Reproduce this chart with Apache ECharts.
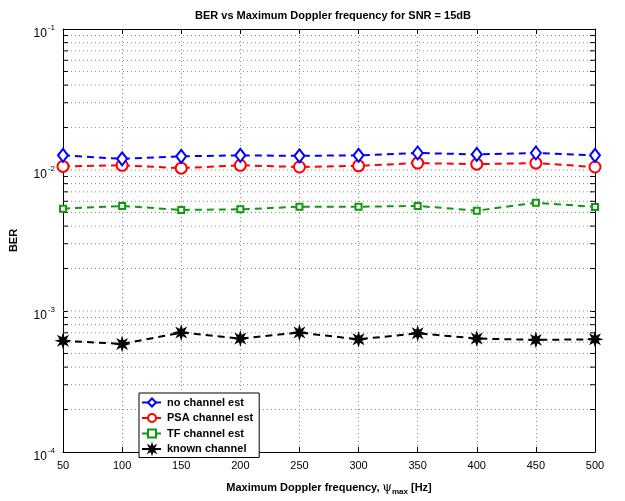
<!DOCTYPE html>
<html>
<head>
<meta charset="utf-8">
<script src="https://cdn.jsdelivr.net/npm/echarts@6/dist/echarts.min.js"></script>
<style>
  html, body { margin: 0; padding: 0; background: #fff; }
  #chart { width: 625px; height: 501px; }
</style>
</head>
<body>
<div id="chart"></div>
<script>
// 最大多普勒频率 (Hz)
const dopplerHz = [50, 100, 150, 200, 250, 300, 350, 400, 450, 500];
const berNoEst = [0.0127, 0.0120, 0.0125, 0.0127, 0.0126, 0.0127, 0.0132, 0.0129, 0.0132, 0.0127];
const berPsa = [0.0106, 0.0108, 0.0103, 0.0108, 0.0105, 0.0107, 0.0112, 0.0110, 0.0112, 0.0105];
const berTf = [0.00532, 0.00556, 0.00521, 0.00526, 0.00549, 0.00549, 0.00556, 0.00515, 0.00586, 0.00547];
const berKnown = [0.000615, 0.000584, 0.000703, 0.000638, 0.000703, 0.00063, 0.000695, 0.000638, 0.000624, 0.00063];
const decades = [1e-4, 1e-3, 1e-2, 1e-1];

const FONT = 'Liberation Sans, Arial, Helvetica, sans-serif';
const STAR = 'path://M10 0L4.2 1.7L7.07 7.07L1.7 4.2L0 10L-1.7 4.2L-7.07 7.07L-4.2 1.7L-10 0L-4.2 -1.7L-7.07 -7.07L-1.7 -4.2L0 -10L1.7 -4.2L7.07 -7.07L4.2 -1.7Z';

// 对数轴的次网格 2..9 x 10^k
const minorVals = [];
decades.slice(0, 3).forEach((d) => {
  for (let m = 2; m <= 9; m += 1) minorVals.push(+(d * m).toPrecision(3));
});
const gridVals = minorVals.concat([1e-3, 1e-2]);

const gridStyle = { color: '#8a8a8a', type: [1, 3], width: 1 };
const TICK = 4.2; // 约5px

function helperLine(points, lineStyle) {
  return {
    type: 'line',
    data: points,
    symbol: 'none',
    silent: true,
    animation: false,
    lineStyle,
    z: 1,
  };
}

const gridSeries = gridVals.map((v) => helperLine([[50, v], [500, v]], gridStyle))
  .concat(minorVals.map((v) => helperLine([[50, v], [50 + TICK, v]], { color: '#000', width: 1 })))
  .concat(minorVals.map((v) => helperLine([[500 - TICK, v], [500, v]], { color: '#000', width: 1 })));

function expLabel(value) {
  const e = Math.round(Math.log10(value));
  return `{b|10}{s|${e}}`;
}

function dataSeries(name, values, color, symbol, symbolSize, fill, z) {
  return {
    name,
    type: 'line',
    data: dopplerHz.map((x, i) => [x, values[i]]),
    symbol,
    symbolSize,
    color,
    lineStyle: { type: [7, 5], width: 2, color },
    itemStyle: { color: fill, borderColor: color, borderWidth: 2 },
    z,
  };
}

const chart = echarts.init(document.getElementById('chart'));
chart.setOption({
  animation: false,
  textStyle: { fontFamily: FONT },
  title: {
    text: 'BER vs Maximum Doppler frequency for SNR = 15dB',
    left: 328,
    top: 5,
    textAlign: 'center',
    textStyle: { fontSize: 11, fontWeight: 'bold', color: '#000', fontFamily: FONT },
  },
  grid: { left: 62, right: 30, top: 29, bottom: 45 },
  legend: {
    orient: 'vertical',
    left: 139,
    top: 393,
    padding: [4, 6, 3, 2],
    itemGap: 4.5,
    itemWidth: 20,
    itemHeight: 10,
    backgroundColor: '#fff',
    borderColor: '#000',
    borderWidth: 1,
    borderRadius: 0,
    textStyle: { fontSize: 11, fontWeight: 'bold', color: '#000', fontFamily: FONT },
    data: ['no channel est', 'PSA channel est', 'TF channel est', 'known channel'],
  },
  xAxis: [
    {
      type: 'value',
      min: 50,
      max: 500,
      interval: 50,
      name: '{n|Maximum Doppler frequency, }{p|ψ}{sub|max}{n| [Hz]}',
      nameLocation: 'middle',
      nameGap: 28,
      nameTextStyle: {
        rich: {
          n: { fontSize: 11, fontWeight: 'bold', color: '#000', fontFamily: FONT },
          p: { fontSize: 12, color: '#000', fontFamily: 'DejaVu Serif, serif' },
          sub: { fontSize: 8, fontWeight: 'bold', color: '#000', fontFamily: FONT, padding: [8, 0, 0, 0] },
        },
      },
      axisLine: { lineStyle: { color: '#000', width: 1 } },
      axisTick: { inside: true, length: 5, lineStyle: { color: '#000' } },
      axisLabel: { color: '#000', fontSize: 11, margin: 8 },
      splitLine: { show: true, lineStyle: gridStyle },
    },
    {
      type: 'value',
      position: 'top',
      min: 50,
      max: 500,
      interval: 50,
      axisLine: { lineStyle: { color: '#000', width: 1 } },
      axisTick: { inside: true, length: 5, lineStyle: { color: '#000' } },
      axisLabel: { show: false },
      splitLine: { show: false },
    },
  ],
  yAxis: [
    {
      type: 'log',
      min: 1e-4,
      max: 1e-1,
      name: 'BER',
      nameLocation: 'middle',
      nameGap: 44,
      nameRotate: 90,
      nameTextStyle: { fontSize: 11, fontWeight: 'bold', color: '#000' },
      axisLine: { show: true, lineStyle: { color: '#000', width: 1 } },
      axisTick: { inside: true, length: 5, lineStyle: { color: '#000' } },
      axisLabel: {
        color: '#000',
        margin: 8,
        formatter: expLabel,
        rich: {
          b: { fontSize: 12, color: '#000', padding: [9, 0, 0, 0] },
          s: { fontSize: 8, color: '#000', padding: [0, 0, 3, 1] },
        },
      },
      splitLine: { show: false },
    },
    {
      type: 'log',
      position: 'right',
      min: 1e-4,
      max: 1e-1,
      axisLine: { show: true, lineStyle: { color: '#000', width: 1 } },
      axisTick: { inside: true, length: 5, lineStyle: { color: '#000' } },
      axisLabel: { show: false },
      splitLine: { show: false },
    },
  ],
  series: gridSeries.concat([
    dataSeries('no channel est', berNoEst, '#0000ff', 'diamond', [10, 13], '#fff', 5),
    dataSeries('PSA channel est', berPsa, '#ff0000', 'circle', 11, '#fff', 4),
    dataSeries('TF channel est', berTf, '#119911', 'rect', 6, '#fff', 4),
    dataSeries('known channel', berKnown, '#000', STAR, 10, '#000', 4),
  ]),
});
</script>
</body>
</html>
